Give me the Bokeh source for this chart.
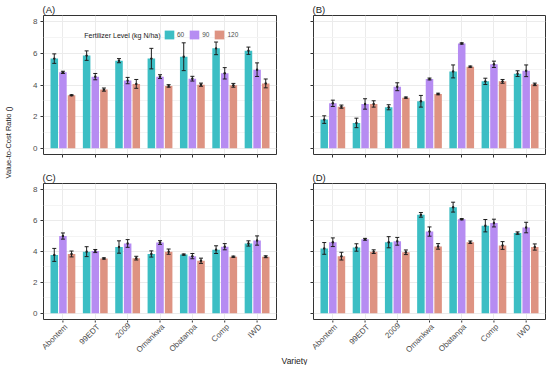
from math import pi
from bokeh.plotting import figure
from bokeh.models import (FactorRange, Range1d, ColumnDataSource, FixedTicker,
                          Legend, LegendItem, Label, Plot, CustomJSTickFormatter,
                          CategoricalScale, Text, Segment)
from bokeh.core.properties import value
from bokeh.transform import dodge
from bokeh.layouts import row, column
from bokeh.embed import file_html
from bokeh.resources import INLINE

# ---------------- data ----------------
varieties = ["Abontem", "99EDT", "2009", "Omankwa", "Obatanpa", "Comp", "IWD"]
levels = ["60", "90", "120"]
y_ticks = [0, 2, 4, 6, 8]
y_minor = [1, 3, 5, 7]

A_60 = [5.67, 5.86, 5.54, 5.67, 5.79, 6.32, 6.17]
A_90 = [4.80, 4.53, 4.28, 4.53, 4.40, 4.74, 4.97]
A_120 = [3.35, 3.71, 4.07, 3.94, 4.02, 3.98, 4.10]
A_60_se = [0.30, 0.30, 0.13, 0.65, 0.88, 0.40, 0.23]
A_90_se = [0.07, 0.20, 0.20, 0.12, 0.15, 0.36, 0.43]
A_120_se = [0.03, 0.10, 0.28, 0.08, 0.10, 0.12, 0.28]

B_60 = [1.81, 1.60, 2.59, 2.97, 4.86, 4.23, 4.72]
B_90 = [2.84, 2.80, 3.89, 4.38, 6.63, 5.31, 4.90]
B_120 = [2.63, 2.80, 3.20, 3.43, 5.16, 4.23, 4.04]
B_60_se = [0.24, 0.30, 0.16, 0.37, 0.41, 0.20, 0.18]
B_90_se = [0.20, 0.33, 0.25, 0.06, 0.04, 0.20, 0.37]
B_120_se = [0.10, 0.20, 0.04, 0.05, 0.04, 0.12, 0.08]

C_60 = [3.78, 3.99, 4.29, 3.84, 3.80, 4.12, 4.52]
C_90 = [5.00, 4.03, 4.52, 4.58, 3.70, 4.31, 4.71]
C_120 = [3.84, 3.55, 3.57, 3.99, 3.40, 3.66, 3.66]
C_60_se = [0.42, 0.32, 0.40, 0.20, 0.04, 0.25, 0.17]
C_90_se = [0.20, 0.10, 0.25, 0.12, 0.17, 0.20, 0.30]
C_120_se = [0.19, 0.04, 0.12, 0.17, 0.17, 0.04, 0.06]

D_60 = [4.20, 4.26, 4.60, 6.37, 6.87, 5.67, 5.19]
D_90 = [4.60, 4.79, 4.66, 5.29, 6.09, 5.84, 5.55]
D_120 = [3.70, 3.99, 3.95, 4.33, 4.60, 4.39, 4.29]
D_60_se = [0.38, 0.24, 0.36, 0.15, 0.32, 0.40, 0.08]
D_90_se = [0.28, 0.06, 0.25, 0.30, 0.04, 0.25, 0.34]
D_120_se = [0.25, 0.12, 0.15, 0.18, 0.08, 0.25, 0.20]

colors = {"60": "#3CBEC4", "90": "#B68CF2", "120": "#DE9382"}
offsets = {"60": -0.267, "90": 0.0, "120": 0.267}
FONT = "Liberation Sans"
ERR = "#1E1E1E"
PAD = 0.1          # category padding of the panels (each side)

# layout constants (pixels)
LW, RW = 233, 232                  # frame widths, left/right column
FH = 139                           # frame height
STRIP_H = 45


def make_panel(title, means, errs, left, right, top, bottom, fw,
               show_y, x_axis):
    data = {"variety": varieties}
    for k in levels:
        data["v" + k] = means[k]
        data["lo" + k] = [m - e for m, e in zip(means[k], errs[k])]
        data["hi" + k] = [m + e for m, e in zip(means[k], errs[k])]
    src = ColumnDataSource(data)
    xr = FactorRange(factors=varieties, range_padding=PAD,
                     range_padding_units="absolute")
    p = figure(x_range=xr, y_range=Range1d(-0.4, 8.4),
               width=left + fw + right, height=top + FH + bottom,
               min_border_left=left, min_border_right=right,
               min_border_top=top, min_border_bottom=bottom,
               output_backend="svg", toolbar_location=None, title=title)
    bars = {}
    for k in levels:
        xs = dodge("variety", offsets[k], range=xr)
        bars[k] = p.vbar(x=xs, top="v" + k, width=0.233, source=src,
                         fill_color=colors[k], line_color=None)
        p.segment(x0=xs, y0="lo" + k, x1=xs, y1="hi" + k, source=src,
                  line_color=ERR, line_width=1)
        p.scatter(x=xs, y="lo" + k, marker="dash", size=4, source=src,
                  line_color=ERR, line_width=1)
        p.scatter(x=xs, y="hi" + k, marker="dash", size=4, source=src,
                  line_color=ERR, line_width=1)
        p.scatter(x=xs, y="v" + k, marker="circle", size=2.4, source=src,
                  fill_color=ERR, line_color=None)

    p.title.text_font = FONT
    p.title.text_font_size = "9.5px"
    p.title.text_font_style = "normal"
    p.title.text_color = "#1A1A1A"
    p.title.standoff = 2
    p.title.align = "left"
    p.title.offset = -1

    p.yaxis.ticker = FixedTicker(ticks=y_ticks, minor_ticks=y_minor)
    p.axis.axis_line_color = None
    p.axis.major_tick_out = 3
    p.axis.major_tick_in = 0
    p.axis.major_tick_line_color = "#333333"
    p.axis.minor_tick_line_color = None
    p.axis.major_label_text_font = FONT
    p.axis.major_label_text_color = "#4D4D4D"
    p.yaxis.major_label_text_font_size = "8px"
    p.axis.major_label_standoff = 2
    p.xaxis.formatter = CustomJSTickFormatter(code="return ''")
    p.xaxis.major_label_standoff = 0
    if not x_axis:
        p.xaxis.visible = False
    if not show_y:
        p.yaxis.major_label_overrides = {t: "" for t in y_ticks}
        p.yaxis.major_label_standoff = 0

    p.xgrid.grid_line_color = "#EBEBEB"
    p.ygrid.grid_line_color = "#EBEBEB"
    p.ygrid.minor_grid_line_color = "#F4F4F4"
    p.outline_line_color = "#333333"
    p.outline_line_width = 1
    p.background_fill_color = "white"
    p.border_fill_color = "white"
    return p, bars


def pack(a60, a90, a120):
    return {"60": a60, "90": a90, "120": a120}


pA, barsA = make_panel("(A)", pack(A_60, A_90, A_120), pack(A_60_se, A_90_se, A_120_se),
                       27, 32, 15, 14, LW, True, True)
pB, _ = make_panel("(B)", pack(B_60, B_90, B_120), pack(B_60_se, B_90_se, B_120_se),
                   5, 5, 15, 14, RW, False, True)
pC, _ = make_panel("(C)", pack(C_60, C_90, C_120), pack(C_60_se, C_90_se, C_120_se),
                   27, 32, 12, 1, LW, True, False)
pD, _ = make_panel("(D)", pack(D_60, D_90, D_120), pack(D_60_se, D_90_se, D_120_se),
                   5, 5, 12, 1, RW, False, False)

# legend in panel A
legend = Legend(items=[LegendItem(label=k, renderers=[barsA[k]]) for k in levels],
                orientation="horizontal", location=(120, 114), padding=0, margin=0,
                spacing=4, glyph_width=12, glyph_height=11, label_height=11,
                label_width=6, label_standoff=2, label_text_font=FONT,
                label_text_font_size="6.5px", label_text_color="#4D4D4D",
                background_fill_alpha=0, border_line_color=None)
pA.add_layout(legend)
pA.add_layout(Label(x=117, y=119, x_units="screen", y_units="screen",
                    text="Fertilizer Level (kg N/ha)", text_align="right",
                    text_baseline="middle", text_font=FONT, text_font_size="7px",
                    text_color="#1A1A1A"))


# ---- strips below the bottom panels: ticks + rotated variety labels ----
def strip(width, left, right, panel_fw):
    scale = panel_fw / (len(varieties) + 2 * PAD)
    fw = width - left - right
    pad = (fw / scale - len(varieties)) / 2
    xr = FactorRange(factors=varieties, range_padding=pad,
                     range_padding_units="absolute")
    s = Plot(width=width, height=STRIP_H, x_range=xr, y_range=Range1d(0, STRIP_H),
             x_scale=CategoricalScale(), min_border_left=left, min_border_right=right,
             min_border_top=0, min_border_bottom=0, toolbar_location=None,
             output_backend="svg", outline_line_color=None, title=None)
    src = ColumnDataSource(dict(variety=varieties))
    s.add_glyph(src, Segment(x0="variety", y0=STRIP_H + 1, x1="variety",
                             y1=STRIP_H - 2, line_color="#333333", line_width=1))
    s.add_glyph(src, Text(x="variety", y=STRIP_H - 2, text="variety", angle=pi / 4,
                          text_align="right", text_baseline="top",
                          text_font=value(FONT), text_font_size=value("8px"),
                          text_color="#4D4D4D"))
    return s, scale, pad


sC, scaleC, padC = strip(308, 12, 1, LW)
sD, _, _ = strip(242, 0, 0, RW)

# global x-axis title (centred under the plotting area, x = 294 px)
var_src = ColumnDataSource(dict(t=["Variety"], x=[-padC + (294 - 12) / scaleC]))
sC.add_glyph(var_src, Text(x="x", y=5, text="t", text_align="center",
                           text_baseline="alphabetic", text_font=value(FONT),
                           text_font_size=value("8.5px"), text_color="#1A1A1A"))

# global y-axis title
ROW1_H = (15 + FH + 14) + (12 + FH + 1)
pY = Plot(width=16, height=ROW1_H, x_range=Range1d(0, 16), y_range=Range1d(0, ROW1_H),
          min_border=0, toolbar_location=None, output_backend="svg",
          outline_line_color=None, title=None)
ylab_src = ColumnDataSource(dict(t=["Value-to-Cost Ratio ()"], x=[8], y=[ROW1_H - 142]))
pY.add_glyph(ylab_src, Text(x="x", y="y", text="t", angle=pi / 2, text_align="center",
                            text_baseline="middle", text_font=value(FONT),
                            text_font_size=value("7.5px"), text_color="#1A1A1A"))

layout = column(row(pY, column(row(pA, pB), row(pC, pD))), row(sC, sD))

open("out.html", "w").write(file_html(layout, INLINE))
